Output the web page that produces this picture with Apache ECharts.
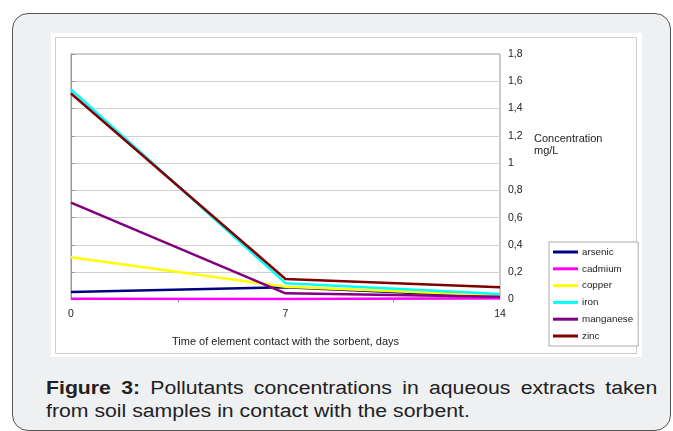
<!DOCTYPE html>
<html>
<head>
<meta charset="utf-8">
<script src="https://cdn.jsdelivr.net/npm/echarts@6/dist/echarts.min.js"></script>
<style>
  html, body { margin: 0; padding: 0; background: #ffffff; width: 673px; height: 431px; overflow: hidden; }
  #card { position: absolute; left: 12px; top: 13px; width: 659px; height: 418px; border: 1.5px solid #555; border-radius: 16px; background: #eff0f2; box-sizing: border-box; }
  #white { position: absolute; left: 51px; top: 33px; width: 591px; height: 324px; background: #ffffff; }
  #frame { position: absolute; left: 55px; top: 37px; width: 582px; height: 317px; border: 1px solid #cfcfcf; box-sizing: border-box; }
  #caption { position: absolute; left: 46px; top: 377px; width: 518px; font-family: "Liberation Sans", Arial, sans-serif; font-size: 18px; line-height: 23px; color: #222; text-align: justify; transform: scaleX(1.18); transform-origin: 0 0; }
  #caption b { font-weight: bold; }
  #chart { position: absolute; left: 0; top: 0; width: 673px; height: 431px; }
</style>
</head>
<body>
<div id="card"></div>
<div id="white"></div>
<div id="frame"></div>
<div id="caption"><b>Figure 3:</b> Pollutants concentrations in aqueous extracts taken from soil samples in contact with the sorbent.</div>
<div id="chart"></div>
<script>
// Data
var days = [0, 7, 14];
var arsenic   = [0.055, 0.09, 0.02];
var cadmium   = [0.005, 0.003, 0.01];
var copper    = [0.31, 0.094, 0.03];
var iron      = [1.54, 0.12, 0.04];
var manganese = [0.71, 0.045, 0.02];
var zinc      = [1.51, 0.15, 0.09];
var seriesNames = ['arsenic', 'cadmium', 'copper', 'iron', 'manganese', 'zinc'];
var seriesValues = [arsenic, cadmium, copper, iron, manganese, zinc];
var seriesColors = ['#000080', '#ff00ff', '#ffff00', '#00ffff', '#800080', '#800000'];
var xTitle = 'Time of element contact with the sorbent, days';
var yTitle = 'Concentration\nmg/L';

var font = '"Liberation Sans", Arial, sans-serif';
var chart = echarts.init(document.getElementById('chart'), null, { renderer: 'canvas' });

var series = seriesNames.map(function (name, i) {
  return {
    name: name,
    type: 'line',
    data: days.map(function (d, j) { return [d, seriesValues[i][j]]; }),
    symbol: 'none',
    lineStyle: { color: seriesColors[i], width: 2.5 },
    itemStyle: { color: seriesColors[i] },
    z: 2 + i
  };
});

chart.setOption({
  animation: false,
  backgroundColor: 'transparent',
  grid: { left: 71, top: 54, width: 429, height: 245.5, show: true, borderColor: '#999', borderWidth: 1, backgroundColor: 'transparent' },
  xAxis: {
    type: 'value', min: 0, max: 14, interval: 7,
    name: xTitle, nameLocation: 'middle', nameGap: 37,
    nameTextStyle: { fontFamily: font, fontSize: 11, color: '#222' },
    axisLine: { show: false },
    axisTick: { show: false },
    minorTick: { show: true, splitNumber: 2, length: 3, lineStyle: { color: '#999' } },
    splitLine: { show: false },
    axisLabel: { margin: 9, fontFamily: font, fontSize: 10.5, color: '#222' }
  },
  yAxis: {
    type: 'value', position: 'right', min: 0, max: 1.8, interval: 0.2,
    axisLine: { show: true, lineStyle: { color: '#999' } },
    axisTick: { show: true, length: 4, lineStyle: { color: '#999' } },
    splitLine: { show: true, lineStyle: { color: '#d0d0d0', width: 1 } },
    axisLabel: {
      margin: 8, fontFamily: font, fontSize: 10.5, color: '#222',
      formatter: function (v) { return String(+v.toFixed(1)).replace('.', ','); }
    }
  },
  legend: {
    orient: 'vertical', left: 549, top: 242,
    data: seriesNames,
    icon: 'rect', itemWidth: 25, itemHeight: 3, itemGap: 4.8,
    padding: [4, 5, 4, 4],
    borderColor: '#aaa', borderWidth: 1, backgroundColor: '#fff',
    textStyle: { fontFamily: font, fontSize: 9.8, color: '#222', lineHeight: 12, padding: [0, 0, 0, -1] }
  },
  graphic: [{
    type: 'text', left: 534, top: 133,
    style: { text: yTitle, fontFamily: font, fontSize: 11, lineHeight: 12, fill: '#222' }
  }],
  series: series
});
</script>
</body>
</html>
